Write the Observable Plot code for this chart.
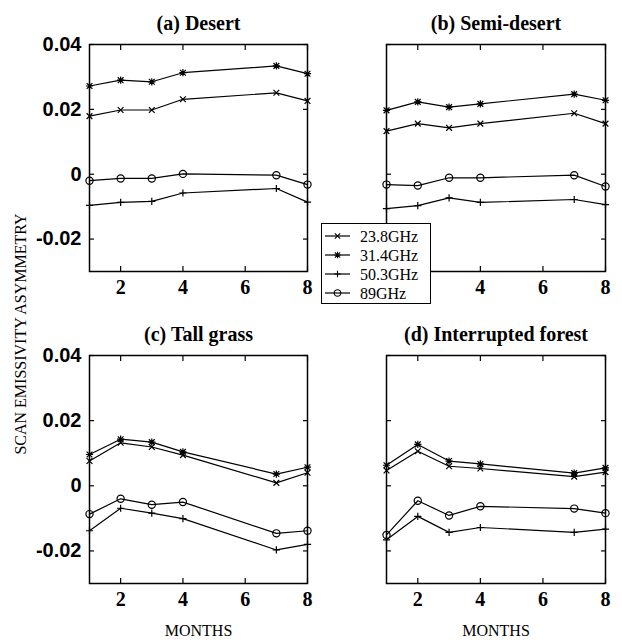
<!DOCTYPE html>
<html><head><meta charset="utf-8">
<script src="https://cdn.jsdelivr.net/npm/d3@7"></script>
<script src="https://cdn.jsdelivr.net/npm/@observablehq/plot@0.6"></script>
<style>
body{margin:0;background:#fff;}
#chart{position:relative;width:622px;height:642px;background:#fff;overflow:hidden;}
.panel{position:absolute;}
#ylab{position:absolute;left:21px;top:334px;transform:translate(-50%,-50%) rotate(-90deg);font:16px "Liberation Serif",serif;white-space:nowrap;color:#000;}
#legend{position:absolute;left:321px;top:223px;width:108px;height:79px;border:1.5px solid #000;background:#fff;}
#legend text{font:16px "Liberation Serif",serif;}
</style></head><body><div id="chart"></div>
<script>
// ---- data ----
const months = [1, 2, 3, 4, 7, 8];
const seriesNames = ["23.8GHz", "31.4GHz", "50.3GHz", "89GHz"];
const panelTitles = ["(a) Desert", "(b) Semi-desert", "(c) Tall grass", "(d) Interrupted forest"];
const xTicks = [2, 4, 6, 8];
const yTicks = [-0.02, 0, 0.02, 0.04];
const xLabel = "MONTHS";
const yLabel = "SCAN EMISSIVITY ASYMMETRY";

const desert238 = [0.0179, 0.0198, 0.0198, 0.0231, 0.0251, 0.0226];
const desert314 = [0.0272, 0.0290, 0.0285, 0.0313, 0.0334, 0.0310];
const desert503 = [-0.0096, -0.0087, -0.0084, -0.0058, -0.0044, -0.0086];
const desert89  = [-0.0020, -0.0013, -0.0013, 0.0001, -0.0003, -0.0032];

const semi238 = [0.0133, 0.0156, 0.0143, 0.0156, 0.0188, 0.0156];
const semi314 = [0.0197, 0.0223, 0.0207, 0.0217, 0.0247, 0.0228];
const semi503 = [-0.0106, -0.0097, -0.0073, -0.0087, -0.0078, -0.0094];
const semi89  = [-0.0032, -0.0035, -0.0011, -0.0011, -0.0003, -0.0038];

const grass238 = [0.0076, 0.0132, 0.0119, 0.0094, 0.0009, 0.0040];
const grass314 = [0.0096, 0.0143, 0.0134, 0.0104, 0.0036, 0.0057];
const grass503 = [-0.0138, -0.0069, -0.0084, -0.0101, -0.0197, -0.0180];
const grass89  = [-0.0087, -0.0040, -0.0058, -0.0050, -0.0146, -0.0138];

const forest238 = [0.0047, 0.0106, 0.0060, 0.0053, 0.0028, 0.0042];
const forest314 = [0.0063, 0.0127, 0.0076, 0.0067, 0.0039, 0.0055];
const forest503 = [-0.0166, -0.0094, -0.0143, -0.0128, -0.0143, -0.0133];
const forest89  = [-0.0151, -0.0046, -0.0091, -0.0063, -0.0070, -0.0084];

// ---- symbols (MATLAB-like) ----
const symR = size => Math.sqrt(size / Math.PI);
const symTimes = {draw(c, s) { const r = symR(s) * 0.8; c.moveTo(-r, -r); c.lineTo(r, r); c.moveTo(-r, r); c.lineTo(r, -r); }};
const symPlus = {draw(c, s) { const r = symR(s); c.moveTo(-r, 0); c.lineTo(r, 0); c.moveTo(0, -r); c.lineTo(0, r); }};
const symStar = {draw(c, s) { symTimes.draw(c, s); symPlus.draw(c, s); }};
const symbols = [symTimes, symStar, symPlus, "circle"];

function rows(arrs) {
  const out = [];
  arrs.forEach((vals, si) => vals.forEach((v, i) => out.push({month: months[i], value: v, series: seriesNames[si]})));
  return out;
}
const panels = [
  rows([desert238, desert314, desert503, desert89]),
  rows([semi238, semi314, semi503, semi89]),
  rows([grass238, grass314, grass503, grass89]),
  rows([forest238, forest314, forest503, forest89])
];

const fmtY = d => d === 0 ? "0" : d.toFixed(2);
const chart = document.getElementById("chart");

const layouts = [
  {left: 0,   top: 0,   mL: 89, mR: 4,  mT: 44, mB: 40, w: 311, h: 311},
  {left: 311, top: 0,   mL: 75, mR: 17, mT: 44, mB: 40, w: 311, h: 311},
  {left: 0,   top: 311, mL: 89, mR: 4,  mT: 44, mB: 59, w: 311, h: 331},
  {left: 311, top: 311, mL: 75, mR: 17, mT: 44, mB: 59, w: 311, h: 331}
];

panels.forEach((data, pi) => {
  const L = layouts[pi];
  const isLeft = pi % 2 === 0;
  const isBottom = pi >= 2;
  // in panel (b) the "2" label sits under the legend box, as in the reference
  const fmtX = pi === 1 ? (d => d === 2 ? "" : String(d)) : (d => String(d));
  const marks = [
    Plot.frame({stroke: "black", strokeWidth: 1.5}),
    Plot.axisX(xTicks, {anchor: "bottom", tickSize: -5, tickPadding: 13, tickFormat: fmtX, fontSize: 20, fontWeight: "bold", fontFamily: "Liberation Serif", label: null, strokeWidth: 1.2}),
    Plot.axisX(xTicks, {anchor: "top", tickSize: -5, tickFormat: () => "", label: null, strokeWidth: 1.2}),
    Plot.axisY(yTicks, {anchor: "left", tickSize: -5, tickPadding: 13, tickFormat: isLeft ? fmtY : () => "", fontSize: 20, fontWeight: "bold", fontFamily: "Liberation Sans", label: null, strokeWidth: 1.2}),
    Plot.axisY(yTicks, {anchor: "right", tickSize: -5, tickFormat: () => "", label: null, strokeWidth: 1.2}),
    Plot.line(data, {x: "month", y: "value", z: "series", stroke: "black", strokeWidth: 1.2})
  ];
  seriesNames.forEach((s, si) => {
    marks.push(Plot.dot(data.filter(d => d.series === s), {x: "month", y: "value", symbol: symbols[si], r: 3.6, stroke: "black", strokeWidth: 1.2, fill: "none"}));
  });
  marks.push(Plot.text([panelTitles[pi]], {frameAnchor: "top", lineAnchor: "bottom", dy: -15, fontSize: 20, fontWeight: "bold", fontFamily: "Liberation Serif", fill: "black"}));
  if (isBottom) marks.push(Plot.text([xLabel], {frameAnchor: "bottom", lineAnchor: "middle", dy: 47, fontSize: 16, fontFamily: "Liberation Serif", fill: "black"}));
  const svg = Plot.plot({
    width: L.w, height: L.h,
    marginLeft: L.mL, marginRight: L.mR, marginTop: L.mT, marginBottom: L.mB,
    x: {domain: [1, 8]},
    y: {domain: [-0.03, 0.04]},
    style: {background: "transparent", color: "black", fontFamily: "Liberation Serif", fontSize: "16px", overflow: "visible"},
    marks
  });
  svg.classList.add("panel");
  svg.style.left = L.left + "px";
  svg.style.top = L.top + "px";
  svg.style.position = "absolute";
  chart.appendChild(svg);
});

// y label
const yl = document.createElement("div");
yl.id = "ylab";
yl.textContent = yLabel;
chart.appendChild(yl);

// legend
const leg = document.createElement("div");
leg.id = "legend";
chart.appendChild(leg);
const lsvg = d3.select(leg).append("svg").attr("width", 108).attr("height", 79);
seriesNames.forEach((s, i) => {
  const y = 12 + i * 19;
  const g = lsvg.append("g").attr("transform", `translate(0,${y})`);
  g.append("line").attr("x1", 3).attr("x2", 28).attr("stroke", "black").attr("stroke-width", 1.2);
  const sym = symbols[i] === "circle" ? d3.symbolCircle : symbols[i];
  g.append("path").attr("transform", "translate(15.5,0)").attr("d", d3.symbol(sym, Math.PI * 3.3 * 3.3)()).attr("fill", "none").attr("stroke", "black").attr("stroke-width", 1.1);
  g.append("text").attr("x", 38).attr("dy", "0.35em").text(s);
});
</script></body></html>
